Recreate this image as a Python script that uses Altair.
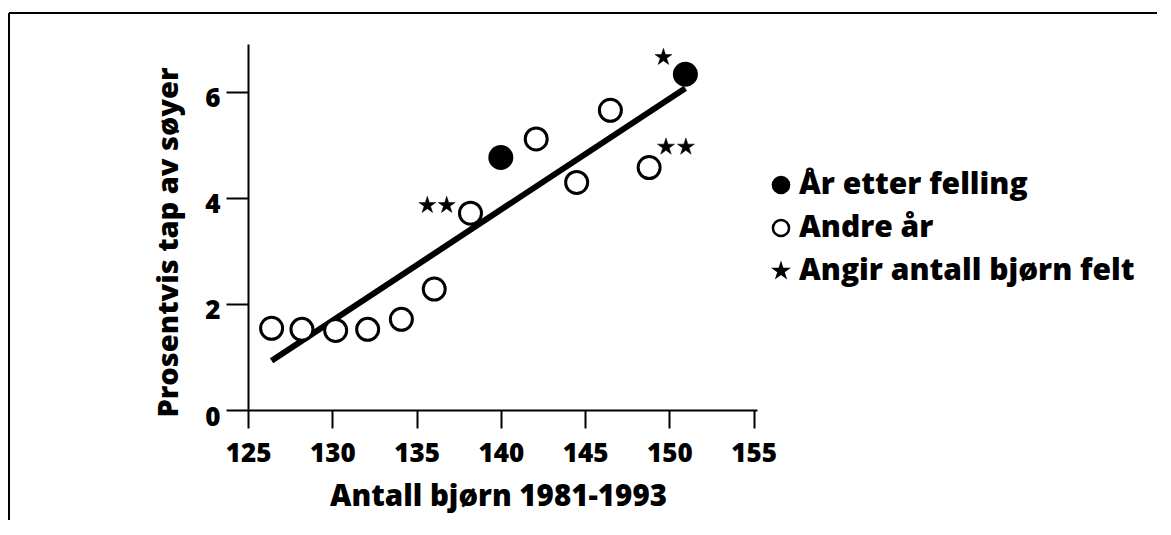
import altair as alt
import pandas as pd

# ---- data ----
bears = [126.4, 128.2, 130.2, 132.1, 134.1, 136.05, 138.2, 140.0, 142.1, 144.5, 146.5, 148.8, 150.95]
loss = [1.54, 1.52, 1.50, 1.52, 1.71, 2.28, 3.71, 4.76, 5.11, 4.29, 5.65, 4.57, 6.33]
kind = ["Andre år"] * 7 + ["År etter felling"] + ["Andre år"] * 4 + ["År etter felling"]

star_x = [135.64, 136.79, 149.65, 149.8, 150.98]
star_y = [3.86, 3.86, 6.65, 4.96, 4.96]
star_kind = ["Angir antall bjørn felt"] * 5

categories = ["År etter felling", "Andre år", "Angir antall bjørn felt"]
x_ticks = [125, 130, 135, 140, 145, 150, 155]
y_ticks = [0, 2, 4, 6]

FONT = "Open Sans"
WEIGHT = 800
STAR = ("M0,-0.8L0.1797,-0.2473L0.7608,-0.2472L0.2908,0.0944L0.4702,0.6472"
        "L0,0.3058L-0.4702,0.6472L-0.2908,0.0944L-0.7608,-0.2472L-0.1797,-0.2473Z")

pts = pd.DataFrame({"bjorn": bears, "tap": loss, "kind": kind})
stars = pd.DataFrame({"bjorn": star_x, "tap": star_y, "kind": star_kind})

xscale = alt.Scale(domain=[125, 155.2], nice=False, zero=False)
yscale = alt.Scale(domain=[0, 6.9], nice=False)

xaxis = alt.Axis(values=x_ticks, title="Antall bjørn 1981-1993", grid=False,
                 tickSize=18, tickWidth=2, tickColor="black",
                 domainColor="black", domainWidth=2,
                 labelFont=FONT, labelFontWeight=WEIGHT, labelFontSize=26, labelColor="black",
                 labelPadding=12, labelFlush=False,
                 titleFont=FONT, titleFontWeight=WEIGHT, titleFontSize=29.5, titleColor="black",
                 titleX=250, titleY=95, titleBaseline="alphabetic", titleAlign="center")
yaxis = alt.Axis(values=y_ticks, title="Prosentvis tap av søyer", grid=False,
                 tickSize=22, tickWidth=2, tickColor="black",
                 domainColor="black", domainWidth=2,
                 labelFont=FONT, labelFontWeight=WEIGHT, labelFontSize=26, labelColor="black",
                 labelPadding=6, labelOffset=7, labelFlush=False,
                 titleFont=FONT, titleFontWeight=WEIGHT, titleFontSize=29, titleColor="black",
                 titleX=-71, titleY=198, titleBaseline="alphabetic", titleAlign="center",
                 titleAngle=270)

legend = alt.Legend(title=None, orient="none", legendX=518, legendY=126, padding=0,
                    labelFont=FONT, labelFontWeight=WEIGHT, labelFontSize=30, labelColor="black",
                    labelLimit=600, labelOffset=3, rowPadding=13,
                    symbolSize=260, symbolStrokeColor="black", symbolStrokeWidth=2.5)

dom = alt.Scale(domain=categories, range=["black", "white", "black"])
fill_enc = alt.Fill("kind:N", scale=dom, legend=legend)
stroke_enc = alt.Stroke("kind:N", scale=alt.Scale(domain=categories, range=["black", "black", "black"]),
                        legend=legend)
shape_enc = alt.Shape("kind:N", scale=alt.Scale(domain=categories, range=["circle", "circle", STAR]),
                      legend=legend)

fit = alt.Chart(pts).transform_regression("bjorn", "tap").mark_line(
    color="black", strokeWidth=6, strokeCap="butt"
).encode(x=alt.X("bjorn:Q", scale=xscale, axis=xaxis), y=alt.Y("tap:Q", scale=yscale, axis=yaxis))

circles = alt.Chart(pts).mark_point(filled=True, size=484, strokeWidth=3, opacity=1).encode(
    x=alt.X("bjorn:Q", scale=xscale, axis=xaxis),
    y=alt.Y("tap:Q", scale=yscale, axis=yaxis),
    fill=fill_enc, shape=shape_enc, stroke=stroke_enc)

star_layer = alt.Chart(stars).mark_point(filled=True, size=500, strokeWidth=0.5, opacity=1).encode(
    x=alt.X("bjorn:Q", scale=xscale, axis=xaxis),
    y=alt.Y("tap:Q", scale=yscale, axis=yaxis),
    fill=fill_enc, shape=shape_enc, stroke=stroke_enc)

frame_top = alt.Chart(alt.Data(values=[{}])).mark_rule(color="black", strokeWidth=2).encode(
    x=alt.value(-239), x2=alt.value(923), y=alt.value(-31))
frame_left = alt.Chart(alt.Data(values=[{}])).mark_rule(color="black", strokeWidth=2).encode(
    x=alt.value(-239), y=alt.value(-31), y2=alt.value(476))

chart = alt.layer(frame_top, frame_left, fit, circles, star_layer).properties(
    width=509, height=366,
    autosize=alt.AutoSizeParams(type="none"),
    padding={"left": 240, "top": 36, "right": 400, "bottom": 110},
    background="white",
).configure_view(stroke=None)

chart.save("out.html", embed_options={"renderer": "svg", "actions": False})
